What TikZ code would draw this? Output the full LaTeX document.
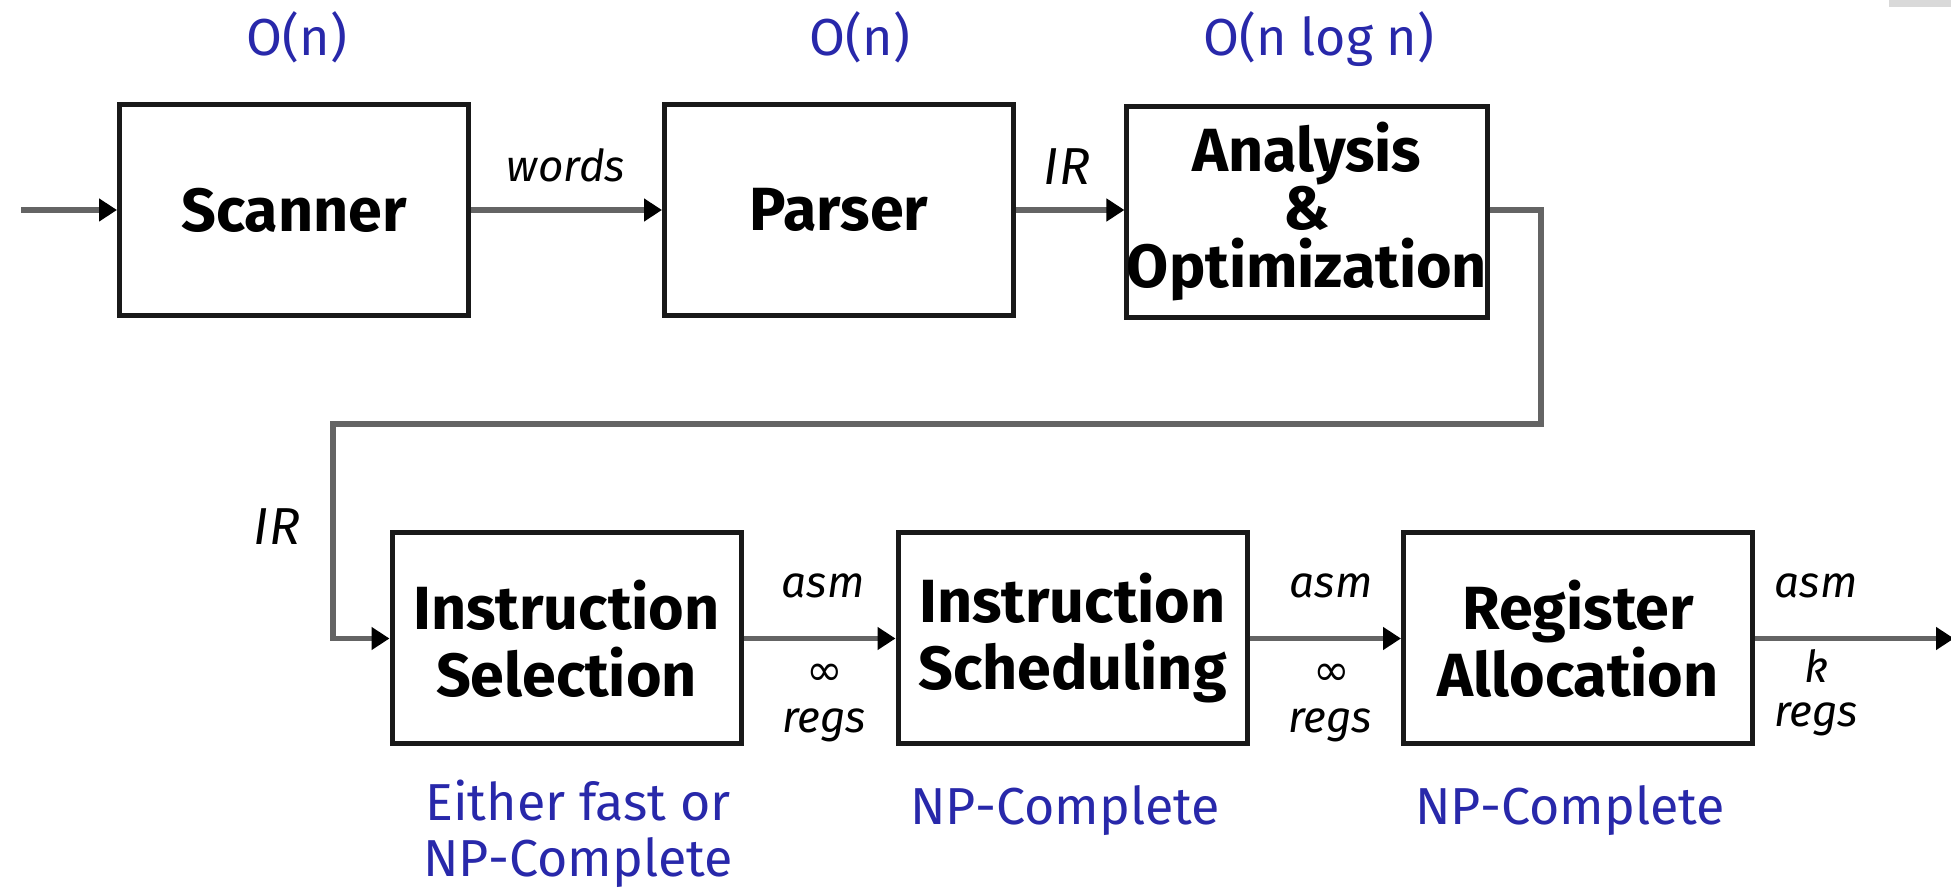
\documentclass[tikz,border=0pt]{standalone}
\usepackage{fontspec}
\setmainfont{Fira Sans}
\newfontfamily\symf{DejaVu Sans}
\usetikzlibrary{arrows.meta}
\definecolor{cblue}{RGB}{40,40,170}
\definecolor{lgray}{RGB}{100,100,100}
\begin{document}
\begin{tikzpicture}[x=0.5pt,y=-0.5pt,
  stage/.style={draw=black!90, line width=2.5pt, minimum width=174.5pt, minimum height=105.5pt,
    inner sep=0pt, align=center, font=\fontsize{30.5}{33.5}\selectfont\bfseries},
  conn/.style={draw=lgray, line width=2.6pt, -{Triangle[length=9pt,width=11pt,color=black]}},
  lab/.style={font=\fontsize{22}{24}\selectfont\itshape, anchor=base, inner sep=0pt},
  irlab/.style={font=\fontsize{26}{28}\selectfont\itshape, anchor=base, inner sep=0pt},
  inflab/.style={font=\fontsize{22}{24}\selectfont\symf, inner sep=0pt},
  cost/.style={text=cblue, font=\fontsize{26}{28}\selectfont, align=center},
]
\useasboundingbox (0,0) rectangle (1951,892);
\fill[gray!30] (1889,0) rectangle (1951,7);

% stages
\node[stage] (scan) at (294,210) {Scanner};
\node[stage] (pars) at (839,210) {Parser};
\node[stage, font=\fontsize{30.5}{29}\selectfont\bfseries] (anal) at (1307,212) {Analysis\\\&\\Optimization};
\node[stage] (isel) at (566.5,638.5) {Instruction\\Selection};
\node[stage] (isch) at (1072.5,638.5) {Instruction\\Scheduling};
\node[stage] (ralloc) at (1578,638.5) {Register\\Allocation};

% helper coordinates
\coordinate (in) at (21,210);
\coordinate (c1) at (1541,210);
\coordinate (c2) at (1541,424);
\coordinate (c3) at (333,424);
\coordinate (out) at (1954,638.5);

% connectors
\draw[conn] (in) -- (scan.west);
\draw[conn] (scan.east) -- (pars.west);
\draw[conn] (pars.east) -- (pars.east -| anal.west);
\draw[conn] (pars.east -| anal.east) -- (c1) -- (c2) -- (c3) |- (isel.west);
\draw[conn] (isel.east) -- (isch.west);
\draw[conn] (isch.east) -- (ralloc.west);
\draw[conn] (ralloc.east) -- (out);

% connector labels
\node[lab] (w) at (566,182) {words};
\node[irlab] (ir1) at (1067,185) {IR};
\node[irlab] (ir2) at (277,545) {IR};
\node[lab] (a1) at (823,598) {asm};
\node[inflab] (i1) at (825,675) {∞};
\node[lab] (r1) at (824,733) {regs};
\node[lab] (a2) at (1331,598) {asm};
\node[inflab] (i2) at (1332,675) {∞};
\node[lab] (r2) at (1330,733) {regs};
\node[lab] (a3) at (1816,598) {asm};
\node[lab] (k) at (1816,683) {k};
\node[lab] (r3) at (1816,727) {regs};

% complexity labels
\node[cost, anchor=base] (o1) at (297,56) {O(n)};
\node[cost, anchor=base] (o2) at (860,56) {O(n)};
\node[cost, anchor=base] (o3) at (1319,56) {O(n log n)};
\node[cost] (cis) at (578,834) {Either fast or\\NP-Complete};
\node[cost, anchor=base] (cisch) at (1065,825) {NP-Complete};
\node[cost, anchor=base] (cra) at (1570,825) {NP-Complete};
\end{tikzpicture}
\end{document}
